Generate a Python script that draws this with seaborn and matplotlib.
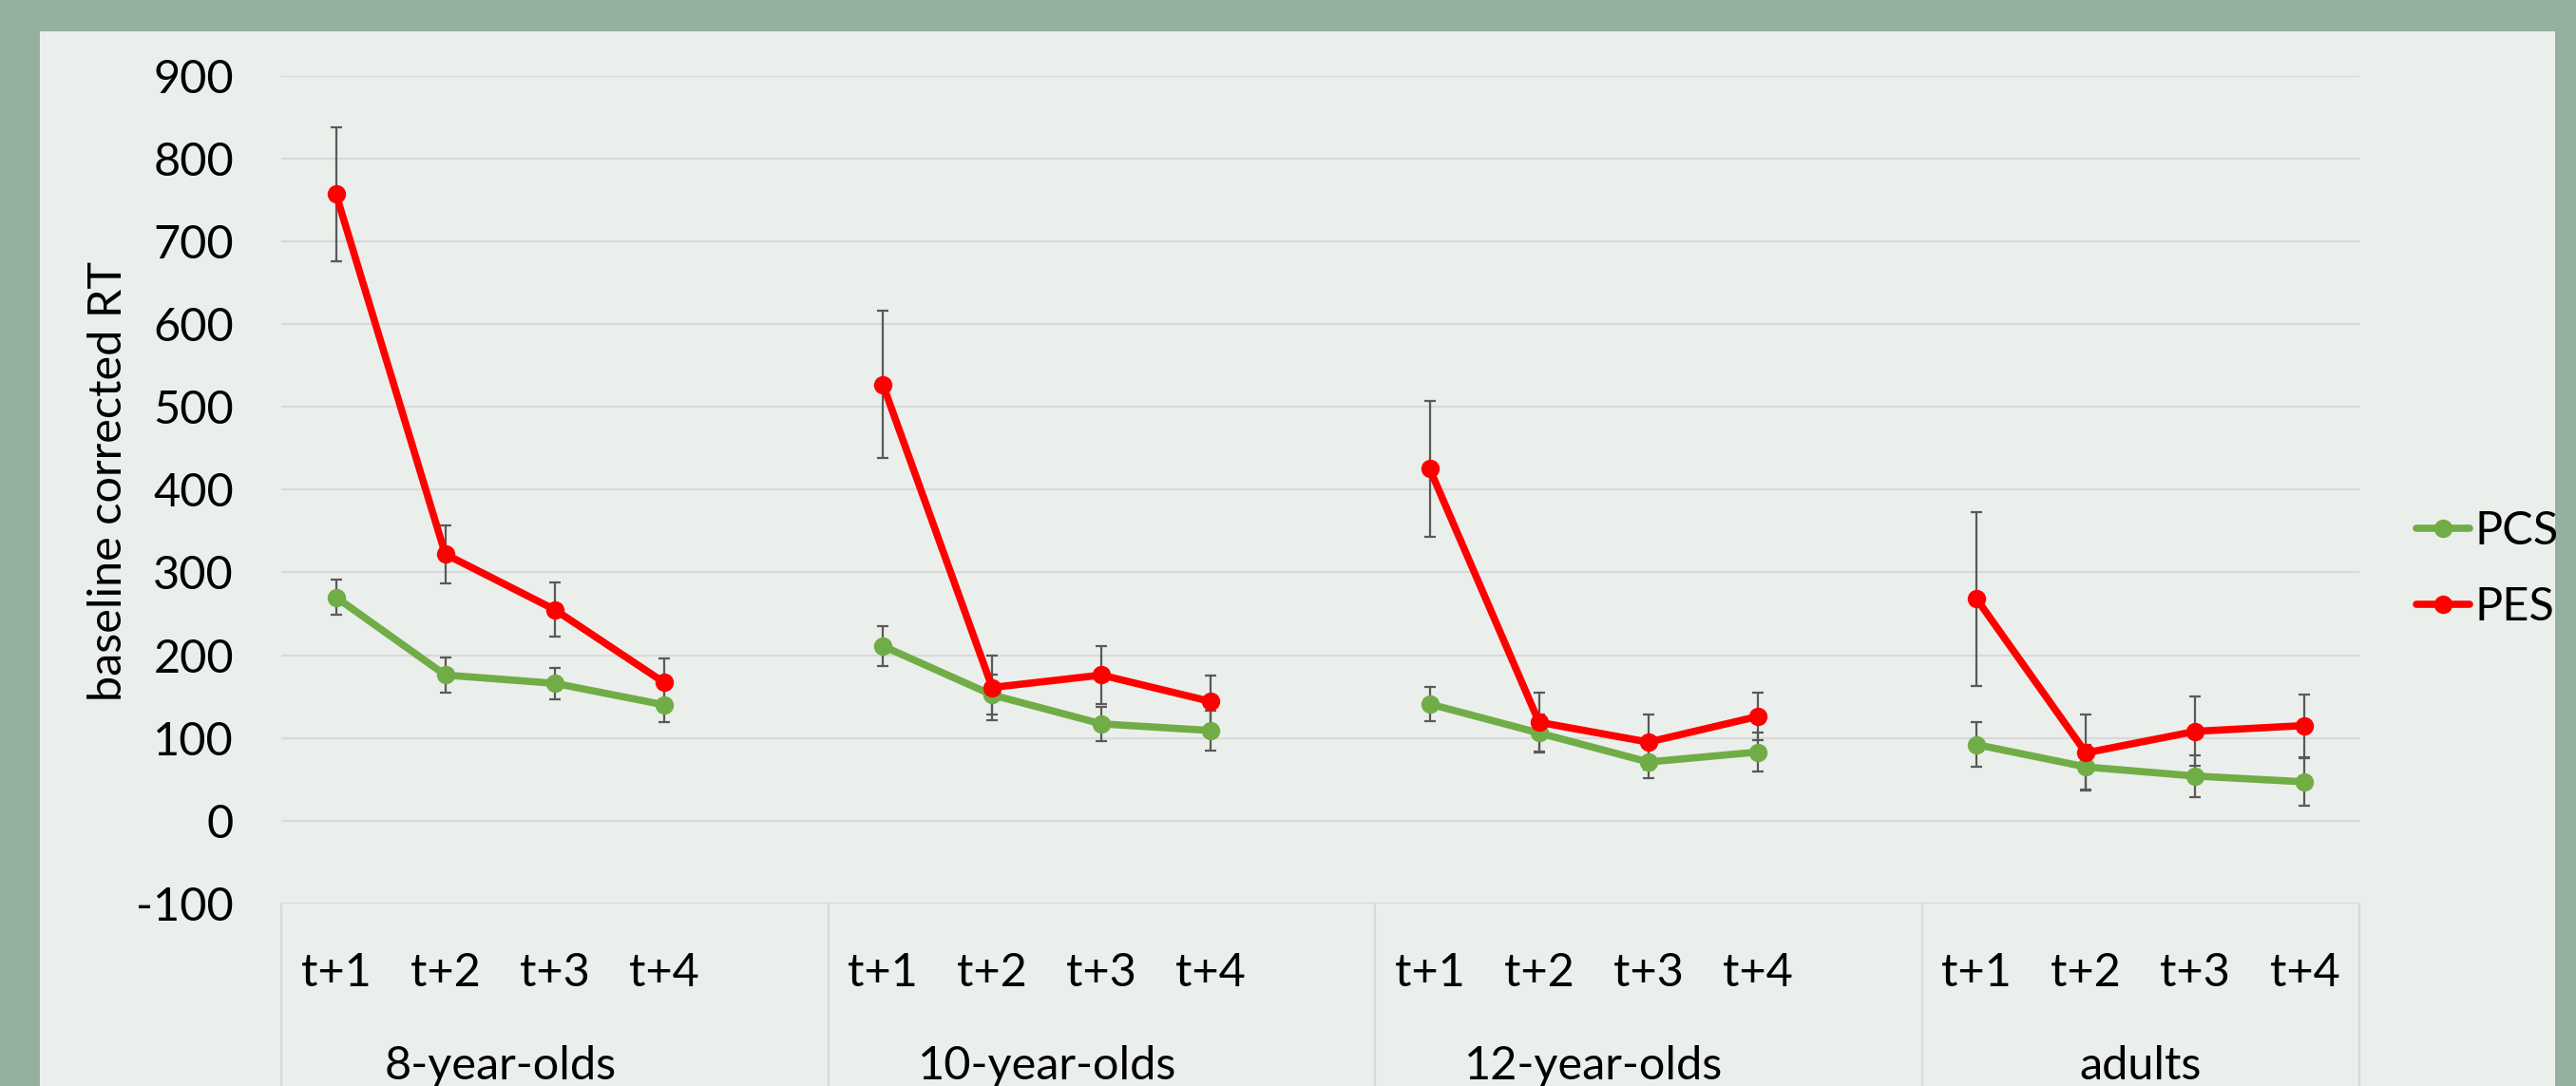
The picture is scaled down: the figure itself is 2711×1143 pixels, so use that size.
import pandas as pd
import matplotlib.pyplot as plt
import seaborn as sns
from matplotlib.lines import Line2D
from matplotlib.patches import Rectangle

# data
groups = ["8-year-olds", "10-year-olds", "12-year-olds", "adults"]
lags = ["t+1", "t+2", "t+3", "t+4"]

pcs_mean = [270, 176, 166, 140, 211, 152, 117, 109, 141, 106, 71, 83, 92, 65, 54, 47]
pcs_err = [21, 21, 19, 21, 24, 24, 21, 24, 21, 22, 20, 23, 27, 27, 25, 29]
pes_mean = [757, 322, 255, 167, 527, 161, 176, 144, 425, 119, 95, 126, 268, 82, 108, 115]
pes_err = [81, 35, 33, 29, 89, 39, 35, 31, 82, 36, 33, 29, 105, 46, 42, 38]

colors = {"PCS": "#70AD47", "PES": "#FF0000"}

# long table, one blank slot between age groups (like the Excel category axis)
rows = []
for name, means, errs in [("PCS", pcs_mean, pcs_err), ("PES", pes_mean, pes_err)]:
    for i, (m, e) in enumerate(zip(means, errs)):
        g, l = divmod(i, 4)
        rows.append({"series": name, "group": groups[g], "lag": lags[l],
                     "pos": g * 5 + l, "value": m, "err": e})
df = pd.DataFrame(rows)

sns.set_style("white")
plt.rcParams["font.family"] = ["Lato", "DejaVu Sans"]
plt.rcParams["axes.unicode_minus"] = False
plt.rcParams["text.color"] = "black"
plt.rcParams["xtick.color"] = "black"
plt.rcParams["ytick.color"] = "black"
plt.rcParams["axes.labelcolor"] = "black"

fig = plt.figure(figsize=(27.11, 11.43), dpi=100)
fig.patch.set_facecolor("#96b09f")
# light panel behind the chart
fig.patches.append(Rectangle((42 / 2711, 0), (2689 - 42) / 2711, 1 - 33 / 1143,
                             transform=fig.transFigure, facecolor="#ebefeb",
                             edgecolor="none", zorder=0))

ax = fig.add_axes([296 / 2711, 1 - 951 / 1143, (2483 - 296) / 2711, (951 - 79.5) / 1143])
ax.set_facecolor("none")
ax.set_zorder(2)

# error bars
for name in ["PCS", "PES"]:
    d = df[df["series"] == name]
    ax.errorbar(d["pos"], d["value"], yerr=d["err"], fmt="none", ecolor="#595959",
                elinewidth=1.6, capsize=4, capthick=1.6, zorder=2)

sns.lineplot(data=df, x="pos", y="value", hue="series", units="group", estimator=None,
             hue_order=["PCS", "PES"], palette=colors, marker="o", markersize=14,
             markeredgewidth=0, linewidth=5.5, legend=False, ax=ax, zorder=3)

ax.set_ylim(-100, 900)
ax.set_yticks(range(-100, 1000, 100))
ax.set_xlim(-0.5, 18.5)
ax.grid(axis="y", color="#d9d9d9", linewidth=1.6)
ax.grid(axis="x", visible=False)
for s in ax.spines.values():
    s.set_visible(False)

# category axis: long separator ticks + lag labels + group labels
ax.set_xticks([-0.5, 4.5, 9.5, 14.5, 18.5])
ax.set_xticklabels([])
ax.tick_params(axis="x", which="major", bottom=True, direction="out", length=140,
               width=1.6, color="#d9d9d9")
ax.set_xticks(df[df["series"] == "PCS"]["pos"], lags * 4, minor=True)
ax.tick_params(axis="x", which="minor", bottom=True, length=0, pad=37, labelsize=35)
ax.tick_params(axis="y", length=0, pad=36, labelsize=35)

for g, name in enumerate(groups):
    ax.text(g * 5 + 1.5, -0.196, name, transform=ax.get_xaxis_transform(),
            ha="center", va="center", fontsize=35)

ax.set_xlabel("")
ax.set_ylabel("baseline corrected RT", fontsize=35)
ax.yaxis.set_label_coords(-0.073, 0.51)

handles = [Line2D([], [], color=colors[n], marker="o", markersize=14, markeredgewidth=0,
                  linewidth=5.5) for n in ["PCS", "PES"]]
fig.legend(handles, ["PCS", "PES"], loc="center left", bbox_to_anchor=(0.929, 0.476),
           frameon=False, fontsize=35, handlelength=1.15, handletextpad=0.12,
           labelspacing=0.75, borderpad=0)

fig.savefig("out.png", dpi=100, facecolor=fig.get_facecolor())
